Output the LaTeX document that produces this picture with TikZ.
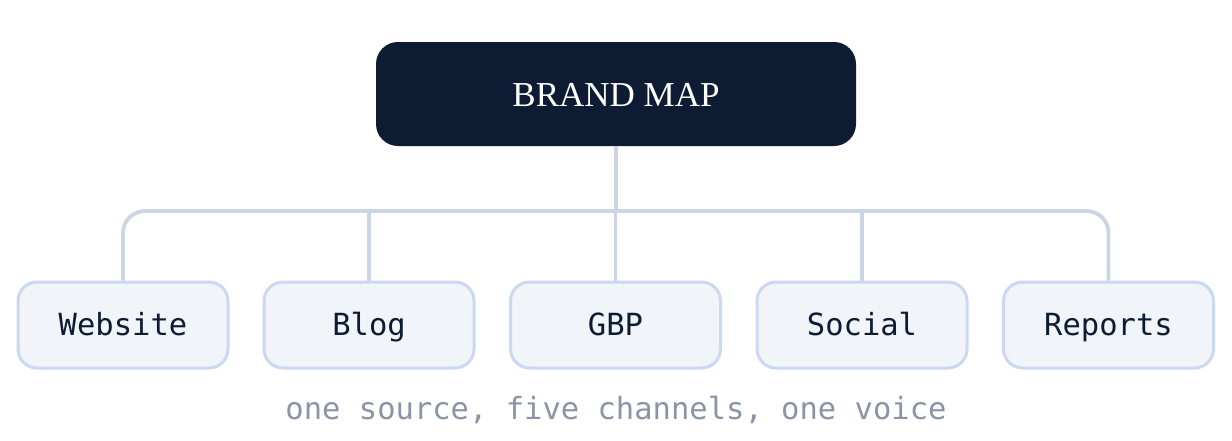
\documentclass[tikz,border=0pt]{standalone}
\usepackage{fontspec}
\setmainfont{Liberation Serif}
\setmonofont{DejaVu Sans Mono}
\definecolor{navy}{HTML}{0D1B33}
\definecolor{boxfill}{HTML}{F1F5FA}
\definecolor{boxline}{HTML}{CAD8F1}
\definecolor{conn}{HTML}{CBD5E3}
\definecolor{capgray}{HTML}{8B93A7}
\begin{document}
\begin{tikzpicture}[x=1pt,y=-1pt,
  rootbox/.style={draw=none, fill=navy, rounded corners=22pt, minimum width=480pt, minimum height=104pt, inner sep=0pt, text height=24pt, text depth=0pt, text=white, font=\fontsize{35}{40}\selectfont},
  leafbox/.style={draw=boxline, line width=3pt, fill=boxfill, rounded corners=19pt, minimum width=210pt, minimum height=86pt, inner sep=0pt, text height=22pt, text depth=2pt, text=navy, font=\ttfamily\fontsize{30.5}{36}\selectfont},
  connline/.style={draw=conn, line width=3.8pt},
  captext/.style={text=capgray, font=\ttfamily\fontsize{30.5}{36}\selectfont, inner sep=0pt}]
\useasboundingbox (0,0) rectangle (1232,440);
\node[rootbox] (root) at (616,94) {BRAND MAP};
\draw[connline] (root.south) -- (616,211) coordinate (bus);
\node[leafbox] (website) at (123,325) {Website};
\node[leafbox] (blog) at (369,325) {Blog};
\node[leafbox] (gbp) at (615.5,325) {GBP};
\node[leafbox] (social) at (862,325) {Social};
\node[leafbox] (reports) at (1108.5,325) {Reports};
\draw[connline, rounded corners=22pt] (website.north) |- (bus) -| (reports.north);
\draw[connline] (blog.north) -- (blog.north |- bus);
\draw[connline] (gbp.north) -- (gbp.north |- bus);
\draw[connline] (social.north) -- (social.north |- bus);
\node[captext] (caption) at (616,410) {one source, five channels, one voice};
\end{tikzpicture}
\end{document}
